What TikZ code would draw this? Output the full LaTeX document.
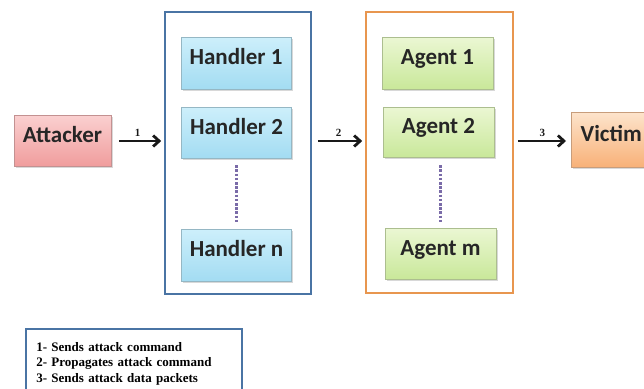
\documentclass[tikz,border=0pt]{standalone}
\usepackage{fontspec}
\setmainfont{Liberation Serif}
\newfontfamily\labelfont{Carlito}
\newcommand\legendfont{\bfseries\fontsize{13}{15.5}\selectfont\spaceskip=1.6pt plus 0.6pt\relax}
\usetikzlibrary{arrows.meta,shadows}

\definecolor{hborder}{HTML}{4A74A4}
\definecolor{aborder}{HTML}{E8964F}
\definecolor{dotcol}{HTML}{7A6BA8}
\definecolor{htop}{HTML}{CDEFFB}
\definecolor{hbot}{HTML}{A3DCF2}
\definecolor{atop}{HTML}{EBF7D3}
\definecolor{abot}{HTML}{C9E89A}
\definecolor{rtop}{HTML}{FAD0D0}
\definecolor{rbot}{HTML}{F09C9C}
\definecolor{vtop}{HTML}{FDE4CC}
\definecolor{vbot}{HTML}{F8B178}

\begin{document}
\begin{tikzpicture}[x=1pt,y=-1pt]
        \tikzset{box/.style={draw,rectangle,minimum width=110pt,minimum height=52pt,
            font=\labelfont\bfseries\fontsize{23}{26}\selectfont,text=black!85,
            text height=0.7em,text depth=0.32em,
            drop shadow={shadow xshift=1.5pt,shadow yshift=-1.5pt,opacity=0.3}},
          handlerbox/.style={box,draw=hbot!60!gray,top color=htop,bottom color=hbot},
          agentbox/.style={box,draw=abot!60!gray,top color=atop,bottom color=abot},
          bigbox/.style={draw,rectangle,line width=1.6pt,fill=white},
          link/.style={-{Straight Barb[length=6pt,width=11pt]},line width=2.8pt,black!90},
          linklabel/.style={above,font=\bfseries\fontsize{11}{12}\selectfont,inner sep=3pt},
          more/.style={dotcol,line width=3.4pt,dash pattern=on 2.6pt off 1.6pt}}
        \clip (0,0) rectangle (644,388);
        % attacker
        \node[box,minimum width=97pt,minimum height=51pt,draw=rbot!60!gray,
          top color=rtop,bottom color=rbot] (attacker) at (62.5,141) {Attacker};
        % handlers
        \node[bigbox,draw=hborder,minimum width=146pt,minimum height=282pt] (hbox) at (238,153) {};
        \node[handlerbox] (handler1) at (236,63) {Handler 1};
        \node[handlerbox,minimum height=51pt] (handler2) at (236.5,132.5) {Handler 2};
        \node[handlerbox] (handlern) at (236.5,255) {Handler n};
        % agents
        \node[bigbox,draw=aborder,minimum width=147pt,minimum height=281pt] (abox) at (439.5,152.5) {};
        \node[agentbox,minimum width=111pt] (agent1) at (437.5,63) {Agent 1};
        \node[agentbox,minimum width=111pt,minimum height=50pt] (agent2) at (438.5,132) {Agent 2};
        \node[agentbox,minimum width=111pt,minimum height=51pt] (agentm) at (440.5,253.5) {Agent m};
        % victim
        \node[box,anchor=west,minimum width=80pt,minimum height=55pt,draw=vbot!60!gray,
          top color=vtop,bottom color=vbot] (victim) at (571,139.5) {Victim};
        % links
        \draw[link,shorten <=8pt,shorten >=3pt] (attacker.east) -- (attacker.east -| hbox.west)
          node[linklabel,midway] {1};
        \draw[link,shorten <=6pt,shorten >=3pt] (hbox.east |- attacker.east) -- (abox.west |- attacker.east)
          node[linklabel,midway] {2};
        \draw[link,shorten <=4pt,shorten >=5pt] (abox.east |- attacker.east) -- (victim.west |- attacker.east)
          node[linklabel,midway] {3};
        \draw[more,shorten <=7pt,shorten >=7pt] (handler2.south) -- (handler2.south |- handlern.north);
        \draw[more,shorten <=8pt,shorten >=6pt] (agent2.south -| agentm.north) -- (agentm.north);
        % legend
        \node[draw=hborder,line width=1.5pt,anchor=north west,minimum height=70pt,
          text width=195pt,align=left,inner xsep=10.5pt,inner ysep=4pt,
          font=\legendfont] (legend) at (25,328)
          {1- Sends attack command\\2- Propagates attack command\\3- Sends attack data packets};
\end{tikzpicture}
\end{document}
